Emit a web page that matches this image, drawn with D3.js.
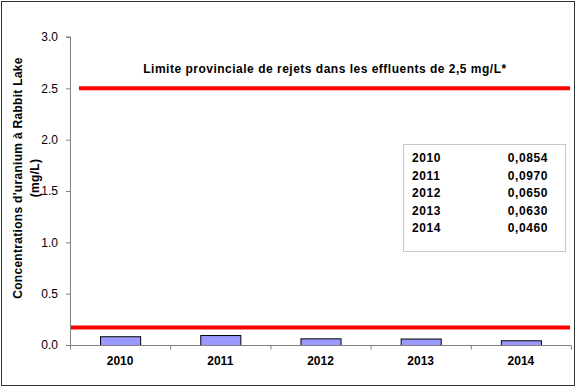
<!DOCTYPE html>
<html><head><meta charset="utf-8">
<script src="https://cdn.jsdelivr.net/npm/d3@7"></script>
<style>body{margin:0;background:#fff}svg{display:block}</style>
</head><body>
<svg id="c" width="576" height="387"></svg>
<script>
const categories = ["2010","2011","2012","2013","2014"];
const values = [0.0854, 0.0970, 0.0650, 0.0630, 0.0460];
const valueLabels = ["0,0854","0,0970","0,0650","0,0630","0,0460"];
const yTicks = [0, 0.5, 1.0, 1.5, 2.0, 2.5, 3.0];
const upperLimit = 2.5;
const lowerLine = 0.17;
const limitLabel = "Limite provinciale de rejets dans les effluents de 2,5 mg/L*";
const yLabel1 = "Concentrations d'uranium à Rabbit Lake";
const yLabel2 = "(mg/L)";

const svg = d3.select("#c");
const font = "'Liberation Sans', Arial, sans-serif";
svg.append("rect").attr("x",1.5).attr("y",1.5).attr("width",573).attr("height",384)
  .attr("fill","#fff").attr("stroke","#333").attr("stroke-width",1);

const x0 = 70, x1 = 571, yTop = 37, yBot = 345;
const x = d3.scaleBand().domain(categories).range([x0, x1]).paddingInner(0.6).paddingOuter(0.3);
const xb = d3.scaleBand().domain(categories).range([x0, x1]);
const y = d3.scaleLinear().domain([0, 3]).range([yBot, yTop]);

// y axis
const ya = svg.append("g").attr("transform",`translate(${x0},0)`)
  .call(d3.axisLeft(y).tickValues(yTicks).tickFormat(d3.format(".1f")).tickSize(4).tickPadding(8));
ya.select(".domain").attr("stroke","#808080").attr("d",`M-4,${yTop}H0.5V${yBot}`);
ya.selectAll(".tick line").attr("stroke","#808080");
ya.selectAll("text").attr("font-family",font).attr("font-size",12).attr("fill","#000");

// bars
svg.selectAll("rect.bar").data(categories).join("rect").attr("class","bar")
  .attr("x", d => x(d)+0.5).attr("width", x.bandwidth())
  .attr("y", (d,i) => y(values[i])+0.5).attr("height", (d,i) => y(0)-y(values[i]))
  .attr("fill","#9999FF").attr("stroke","#000").attr("stroke-width",1);

// x axis
const xa = svg.append("g").attr("transform",`translate(0,${yBot+0.5})`);
xa.append("line").attr("x1",x0).attr("x2",x1).attr("stroke","#808080");
xa.selectAll("line.t").data(categories.concat(["end"])).join("line").attr("class","t")
  .attr("x1",(d,i)=> i<categories.length ? xb(d)+0.5 : x1+0.5)
  .attr("x2",(d,i)=> i<categories.length ? xb(d)+0.5 : x1+0.5)
  .attr("y1",0).attr("y2",4).attr("stroke","#808080");
xa.selectAll("text").data(categories).join("text")
  .attr("x", d => xb(d)+xb.bandwidth()/2).attr("y",19)
  .attr("text-anchor","middle").attr("font-family",font).attr("font-size",12)
  .attr("font-weight","bold").text(d=>d);

// limit lines
svg.append("line").attr("x1",79).attr("x2",570).attr("y1",y(upperLimit)).attr("y2",y(upperLimit))
  .attr("stroke","#FF0000").attr("stroke-width",4);
svg.append("line").attr("x1",71).attr("x2",570).attr("y1",y(lowerLine)).attr("y2",y(lowerLine))
  .attr("stroke","#FF0000").attr("stroke-width",4);

svg.append("text").attr("x",325).attr("y",73).attr("text-anchor","middle")
  .attr("font-family",font).attr("font-size",12).attr("font-weight","bold")
  .attr("letter-spacing","0.5px").text(limitLabel);

// y label
const yl = svg.append("g").attr("transform","translate(0,178) rotate(-90)")
  .attr("font-family",font).attr("font-size",12).attr("font-weight","bold").attr("text-anchor","middle")
  .attr("letter-spacing","0.3px");
yl.append("text").attr("x",0).attr("y",22).text(yLabel1);
yl.append("text").attr("x",0).attr("y",39).text(yLabel2);

// table box
svg.append("rect").attr("x",403.5).attr("y",144.5).attr("width",162).attr("height",107)
  .attr("fill","#fff").attr("stroke","#c8c8c8");
const tb = svg.append("g").attr("font-family",font).attr("font-size",12).attr("font-weight","bold")
  .attr("letter-spacing","0.6px");
tb.selectAll("text.k").data(categories).join("text").attr("class","k")
  .attr("x",412).attr("y",(d,i)=>162+i*17.5).text(d=>d);
tb.selectAll("text.v").data(valueLabels).join("text").attr("class","v")
  .attr("x",548).attr("y",(d,i)=>162+i*17.5).attr("text-anchor","end").text(d=>d);
</script>
</body></html>
